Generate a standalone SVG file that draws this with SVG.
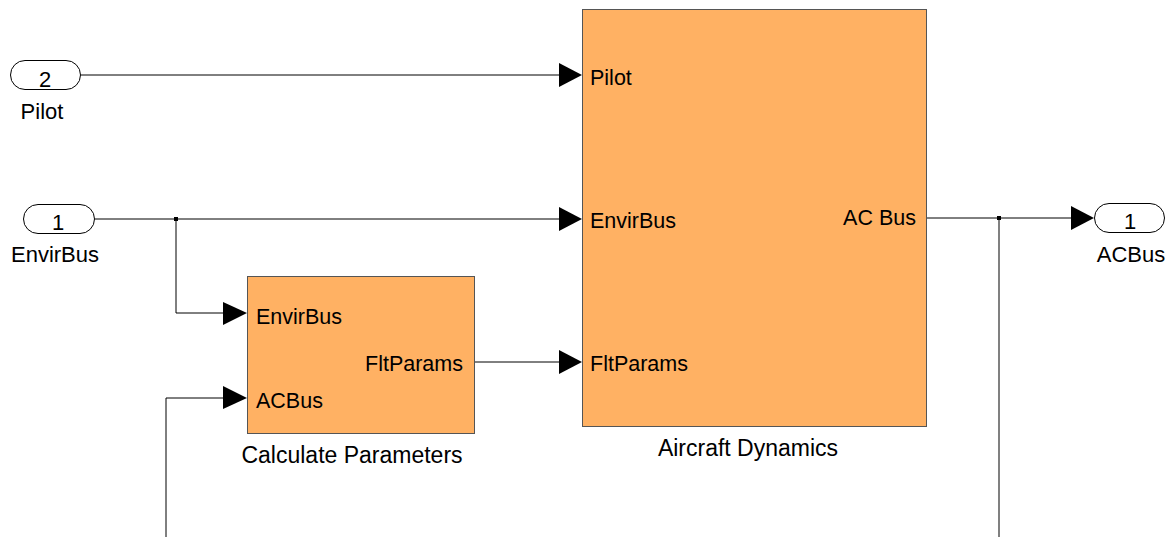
<svg xmlns="http://www.w3.org/2000/svg" width="1173" height="537" viewBox="0 0 1173 537">
<style>
text{font-family:"Liberation Sans",Arial,sans-serif;fill:#000}
.lbl{font-size:22px}
.bname{font-size:23px;text-anchor:middle}
.plbl{font-size:21.5px}
.num{font-size:22px;text-anchor:middle}
.blk{fill:#FFB163;stroke:#555;stroke-width:1}
.pill{fill:#fff;stroke:#000;stroke-width:1}
.ln{fill:none;stroke:#000;stroke-width:1}
.arr{fill:#000}
</style>
<rect width="1173" height="537" fill="#fff"/>
<g id="connectors">
<path class="ln" d="M81 75H560"/>
<path class="ln" d="M95 219H560"/>
<path class="ln" d="M176 219V313H224"/>
<path class="ln" d="M166 537V398H224"/>
<path class="ln" d="M475 362H560"/>
<path class="ln" d="M927 218H1072"/>
<path d="M999 218V537" fill="none" stroke="#808080" stroke-width="2"/>
<rect x="174" y="217" width="4" height="4" fill="#000"/>
<rect x="997" y="216" width="4" height="4" fill="#000"/>
<polygon class="arr" points="559,63 582,75 559,87"/>
<polygon class="arr" points="559,207 582,219 559,231"/>
<polygon class="arr" points="559,350 582,362 559,374"/>
<polygon class="arr" points="223,302 247,313 223,325"/>
<polygon class="arr" points="223,386 247,398 223,409"/>
<polygon class="arr" points="1071,206 1094,218 1071,230"/>
</g>
<g id="in-pilot">
<rect class="pill" x="10.5" y="60.5" width="70" height="29" rx="14.5"/>
<text class="num" x="45" y="87">2</text>
<text class="lbl" x="42" y="119" text-anchor="middle">Pilot</text>
</g>
<g id="in-envirbus">
<rect class="pill" x="23.5" y="204.5" width="71" height="29" rx="14.5"/>
<text class="num" x="58" y="230">1</text>
<text class="lbl" x="55" y="262" text-anchor="middle">EnvirBus</text>
</g>
<g id="out-acbus">
<rect class="pill" x="1094.5" y="203.5" width="70" height="29" rx="14.5"/>
<text class="num" x="1130" y="229">1</text>
<text class="lbl" x="1131" y="262" text-anchor="middle">ACBus</text>
</g>
<g id="calc-params">
<rect class="blk" x="247.5" y="276.5" width="227" height="157"/>
<text class="plbl" x="256" y="324">EnvirBus</text>
<text class="plbl" x="256" y="408">ACBus</text>
<text class="plbl" x="463" y="371" text-anchor="end">FltParams</text>
<text class="bname" x="352" y="463">Calculate Parameters</text>
</g>
<g id="aircraft-dynamics">
<rect class="blk" x="582.5" y="9.5" width="344" height="417"/>
<text class="plbl" x="590" y="85">Pilot</text>
<text class="plbl" x="590" y="228">EnvirBus</text>
<text class="plbl" x="590" y="371">FltParams</text>
<text class="plbl" x="916" y="225" text-anchor="end">AC Bus</text>
<text class="bname" x="748" y="456">Aircraft Dynamics</text>
</g>
</svg>
